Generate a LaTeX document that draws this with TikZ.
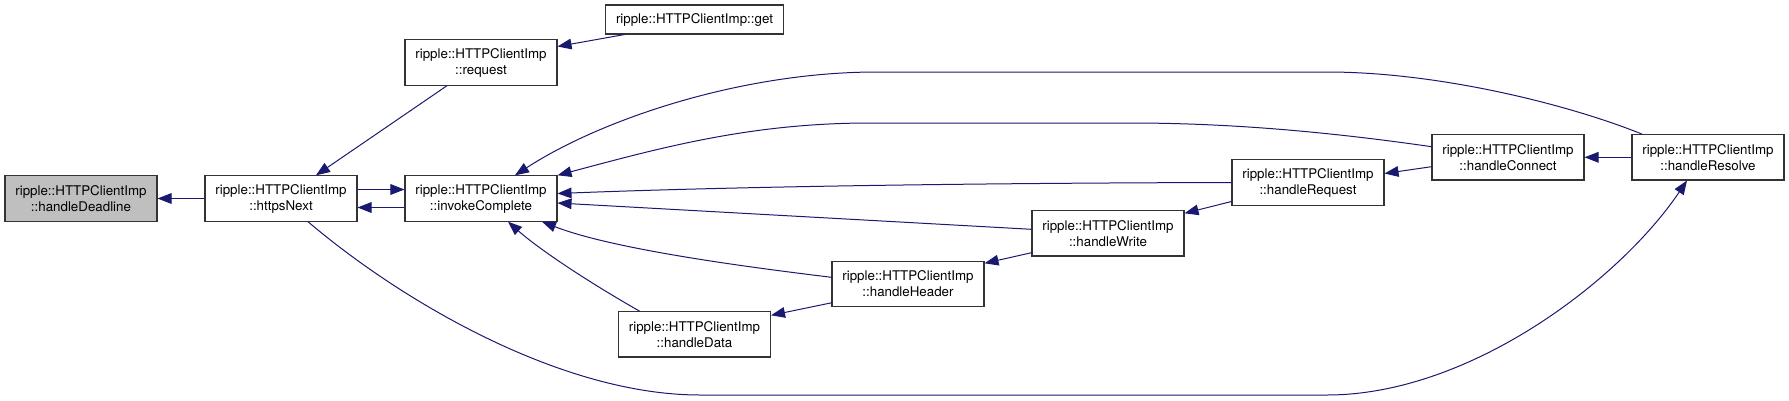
\documentclass[tikz,border=0pt]{standalone}
\usepackage{fontspec}
\setmainfont{TeX Gyre Heros}
\usepackage{xcolor}
\usepackage{tikz}
\usetikzlibrary{arrows.meta, calc, positioning}

\definecolor{edgeblue}{HTML}{191970}
\definecolor{focusgrey}{HTML}{BFBFBF}

\begin{document}
\begin{tikzpicture}[x=0.75pt, y=-0.75pt, >={Triangle[length=10.5pt,width=8pt]},
    fn/.style={draw=black!80, line width=0.8pt, align=center, inner sep=0pt,
        minimum width=114pt, minimum height=34pt, font=\fontsize{10}{12}\selectfont},
    call/.style={->, draw=edgeblue, line width=0.75pt}]

    \useasboundingbox (0,0) rectangle (1789,400);

    \node[fn, fill=focusgrey] (deadline) at (81,198.5) {ripple::HTTPClientImp\\::handleDeadline};
    \node[fn] (httpsnext) at (281,198.5) {ripple::HTTPClientImp\\::httpsNext};
    \node[fn] (request) at (481,62.5) {ripple::HTTPClientImp\\::request};
    \node[fn] (invoke) at (481,198.5) {ripple::HTTPClientImp\\::invokeComplete};
    \node[fn, minimum width=134pt, minimum height=21.75pt] (get) at (694.5,19.5) {ripple::HTTPClientImp::get};
    \node[fn] (data) at (694.5,334.3) {ripple::HTTPClientImp\\::handleData};
    \node[fn] (header) at (908,283.8) {ripple::HTTPClientImp\\::handleHeader};
    \node[fn] (write) at (1108,233.3) {ripple::HTTPClientImp\\::handleWrite};
    \node[fn] (reqh) at (1308,182.5) {ripple::HTTPClientImp\\::handleRequest};
    \node[fn] (connect) at (1508,157.3) {ripple::HTTPClientImp\\::handleConnect};
    \node[fn] (resolve) at (1708,157.3) {ripple::HTTPClientImp\\::handleResolve};

    % left part
    \draw[call] (httpsnext.west) -- (deadline.east);
    \draw[call] ($(request.south)+(-34,0)$) -- ($(httpsnext.north)+(35,0)$);
    \draw[call] ($(get.south)+(-70,0)$) -- ($(request.east)+(0,-16)$);
    \draw[call] ($(httpsnext.east)+(0,-9)$) -- ($(invoke.west)+(0,-9)$);
    \draw[call] ($(invoke.west)+(0,9)$) -- ($(httpsnext.east)+(0,9)$);

    % long curves
    \draw[call] ($(httpsnext.south)+(27,0)$) .. controls (400,300) and (560,395) .. (700,395)
        -- (1327,395) .. controls (1470,395) and (1620,280) .. ($(resolve.south)+(-21,0)$);
    \draw[call] ($(resolve.north)+(-66,0)$) .. controls (1570,105) and (1440,72) .. (1327,72)
        -- (877,72) .. controls (740,72) and (600,120) .. ($(invoke.north)+(34,0)$);
    \draw[call] ($(connect.west)+(0,-10.6)$) .. controls (1330,132) and (1230,123) .. (1130,123)
        -- (870,123) .. controls (750,123) and (660,148) .. (invoke.north east);

    % into invokeComplete from the right
    \draw[call] (reqh.west) .. controls (1000,183) and (750,186) .. ($(invoke.east)+(0,-5)$);
    \draw[call] ($(write.west)+(0,-4)$) -- ($(invoke.east)+(0,4.5)$);
    \draw[call] ($(header.west)+(0,-6.5)$) .. controls (730,265) and (610,248) .. ($(invoke.south)+(61,0)$);
    \draw[call] ($(data.north)+(-55,0)$) .. controls (590,283) and (540,250) .. ($(invoke.south)+(27,0)$);

    % chain of handlers
    \draw[call] ($(header.west)+(0,19)$) -- ($(data.east)+(0,-19)$);
    \draw[call] ($(write.west)+(0,19.4)$) -- ($(header.east)+(0,-20.5)$);
    \draw[call] ($(reqh.west)+(0,19)$) -- ($(write.east)+(0,-20)$);
    \draw[call] ($(connect.west)+(0,9.4)$) -- ($(reqh.east)+(0,-9)$);
    \draw[call] (resolve.west) -- (connect.east);

\end{tikzpicture}
\end{document}
